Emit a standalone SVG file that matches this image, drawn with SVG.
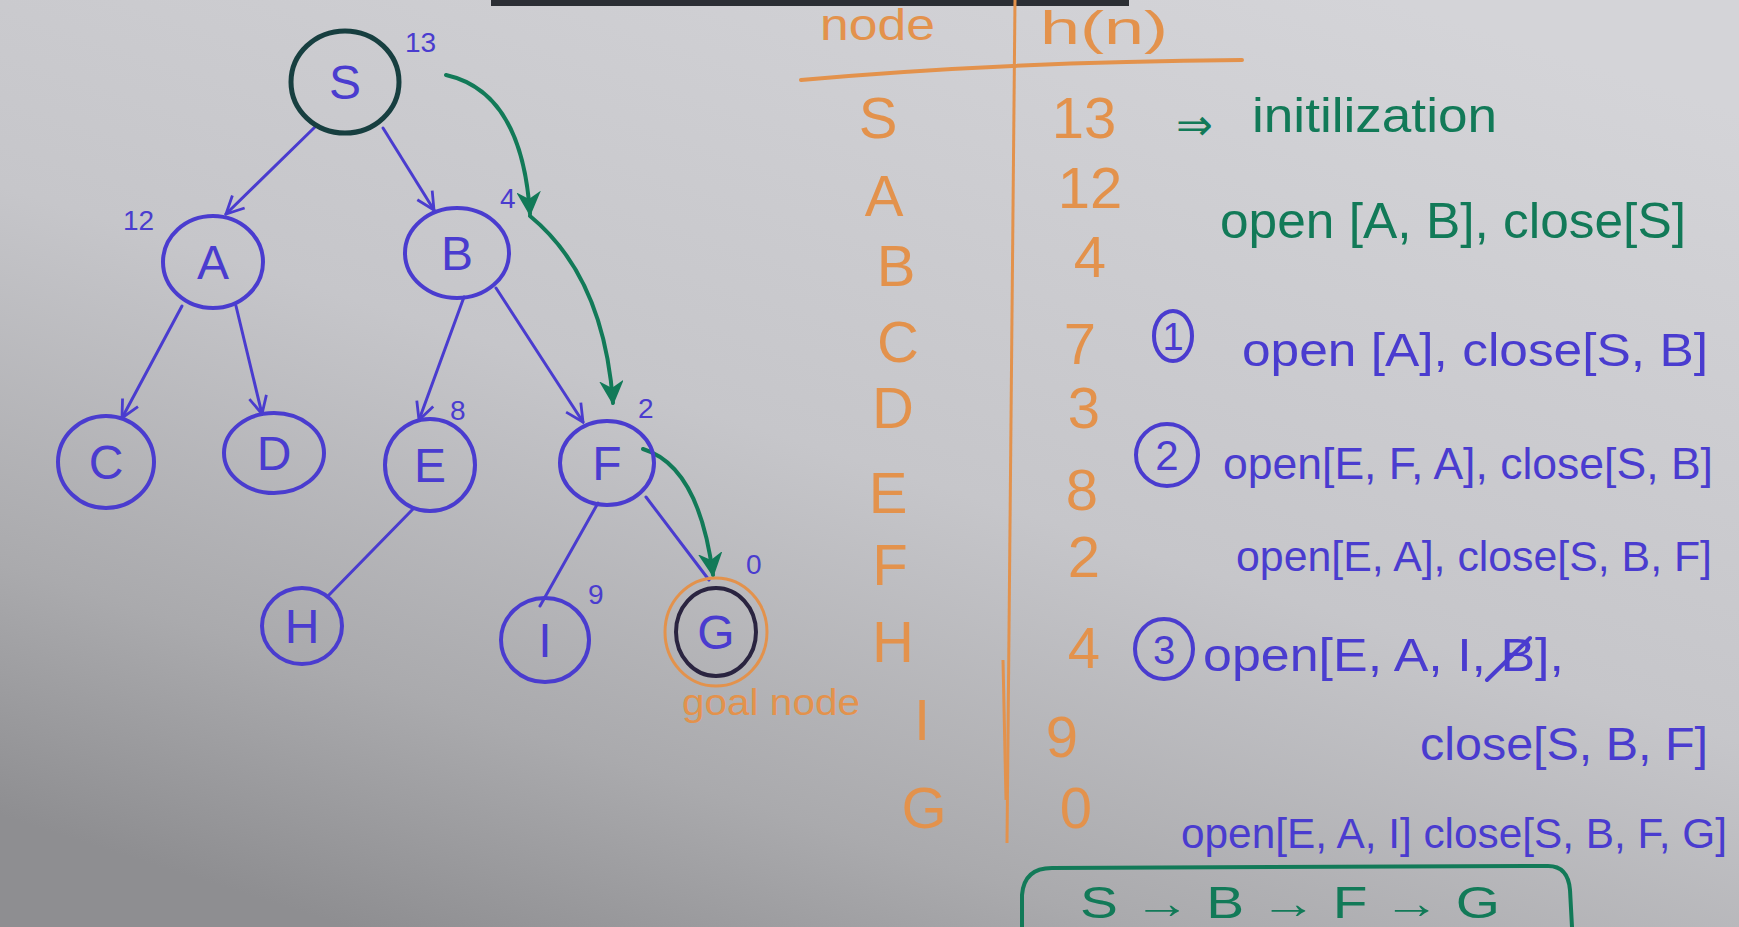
<svg xmlns="http://www.w3.org/2000/svg" width="1739" height="927" viewBox="0 0 1739 927">
<defs>
<linearGradient id="bg" x1="0.8" y1="0" x2="0.2" y2="1">
<stop offset="0" stop-color="#d4d4d8"/>
<stop offset="0.5" stop-color="#c6c6ca"/>
<stop offset="0.8" stop-color="#aaaaad"/>
<stop offset="1" stop-color="#8e8e91"/>
</linearGradient>
<marker id="ab" viewBox="0 0 12 12" refX="11" refY="6" markerWidth="7" markerHeight="7" orient="auto" markerUnits="strokeWidth">
<path d="M1,1 L11,6 L1,11" fill="none" stroke="#4a3ccf" stroke-width="1.6"/>
</marker>
<marker id="ag" viewBox="0 0 12 12" refX="11" refY="6" markerWidth="6" markerHeight="6" orient="auto" markerUnits="strokeWidth">
<path d="M1,1 L11,6 L1,11 L4,6 Z" fill="#127a58" stroke="#127a58" stroke-width="1"/>
</marker>
<style>
.nb{fill:none;stroke:#4a3ccf;stroke-width:4}
.nl{font-family:"Liberation Sans",Arial,sans-serif;font-size:48px;fill:#4a3ccf;text-anchor:middle}
.hv{font-family:"Liberation Sans",Arial,sans-serif;font-size:28px;fill:#4a3ccf}
.e{fill:none;stroke:#4a3ccf;stroke-width:3;stroke-linecap:round}
.g{fill:none;stroke:#127a58;stroke-width:4;stroke-linecap:round}
.or{font-family:"Liberation Sans",Arial,sans-serif;fill:#e3924c}
.tb{font-family:"Liberation Sans",Arial,sans-serif;font-size:58px;fill:#e3924c;text-anchor:middle}
.bt{font-family:"Liberation Sans",Arial,sans-serif;fill:#4a3ccf}
.gt{font-family:"Liberation Sans",Arial,sans-serif;fill:#127a58}
</style>
</defs>
<rect x="0" y="0" width="1739" height="927" fill="url(#bg)"/>
<rect x="491" y="0" width="638" height="6" fill="#2b2e34"/>

<g id="connectors">
<line class="e" x1="316" y1="126" x2="226" y2="214" marker-end="url(#ab)"/>
<line class="e" x1="383" y1="128" x2="434" y2="210" marker-end="url(#ab)"/>
<line class="e" x1="182" y1="306" x2="122" y2="418" marker-end="url(#ab)"/>
<line class="e" x1="236" y1="306" x2="262" y2="414" marker-end="url(#ab)"/>
<line class="e" x1="464" y1="297" x2="419" y2="420" marker-end="url(#ab)"/>
<line class="e" x1="496" y1="288" x2="583" y2="422" marker-end="url(#ab)"/>
<line class="e" x1="414" y1="508" x2="328" y2="596"/>
<line class="e" x1="598" y1="503" x2="540" y2="606"/>
<line class="e" x1="646" y1="497" x2="709" y2="580"/>
<path class="g" d="M446,75 Q522,92 530,214" marker-end="url(#ag)"/>
<path class="g" d="M530,216 Q604,277 613,403" marker-end="url(#ag)"/>
<path class="g" d="M643,449 Q699,466 713,575" marker-end="url(#ag)"/>
</g>

<g id="node-S">
<ellipse cx="345" cy="82" rx="54" ry="51" fill="none" stroke="#173f40" stroke-width="5"/>
<text class="nl" x="345" y="99">S</text>
<text class="hv" x="405" y="52">13</text>
</g>
<g id="node-A">
<ellipse class="nb" cx="213" cy="262" rx="50" ry="46"/>
<text class="nl" x="213" y="279">A</text>
<text class="hv" x="123" y="230">12</text>
</g>
<g id="node-B">
<ellipse class="nb" cx="457" cy="253" rx="52" ry="45"/>
<text class="nl" x="457" y="270">B</text>
<text class="hv" x="500" y="208">4</text>
</g>
<g id="node-C">
<ellipse class="nb" cx="106" cy="462" rx="48" ry="46"/>
<text class="nl" x="106" y="479">C</text>
</g>
<g id="node-D">
<ellipse class="nb" cx="274" cy="453" rx="50" ry="40"/>
<text class="nl" x="274" y="470">D</text>
</g>
<g id="node-E">
<ellipse class="nb" cx="430" cy="465" rx="45" ry="46"/>
<text class="nl" x="430" y="482">E</text>
<text class="hv" x="450" y="420">8</text>
</g>
<g id="node-F">
<ellipse class="nb" cx="607" cy="463" rx="47" ry="42"/>
<text class="nl" x="607" y="480">F</text>
<text class="hv" x="638" y="418">2</text>
</g>
<g id="node-H">
<ellipse class="nb" cx="302" cy="626" rx="40" ry="38"/>
<text class="nl" x="302" y="643">H</text>
</g>
<g id="node-I">
<ellipse class="nb" cx="545" cy="640" rx="44" ry="42"/>
<text class="nl" x="545" y="657">I</text>
<text class="hv" x="588" y="604">9</text>
</g>
<g id="node-G">
<ellipse cx="716" cy="632" rx="51" ry="54" fill="none" stroke="#e3924c" stroke-width="3"/>
<ellipse cx="716" cy="632" rx="40" ry="44" fill="none" stroke="#2a2440" stroke-width="4"/>
<text class="nl" x="716" y="649">G</text>
<text class="hv" x="746" y="574">0</text>
<text class="or" x="682" y="715" font-size="36" textLength="178" lengthAdjust="spacingAndGlyphs">goal node</text>
</g>

<g id="table">
<text class="or" x="820" y="40" font-size="44" textLength="115" lengthAdjust="spacingAndGlyphs">node</text>
<text class="or" x="1040" y="44" font-size="46" textLength="128" lengthAdjust="spacingAndGlyphs">h(n)</text>
<path d="M801,80 Q1000,62 1242,60" fill="none" stroke="#e3924c" stroke-width="4" stroke-linecap="round"/>
<path d="M1015,0 L1007,843" fill="none" stroke="#e3924c" stroke-width="3"/>
<path d="M1003,660 L1006,800" fill="none" stroke="#e3924c" stroke-width="3"/>
<text class="tb" x="878" y="138">S</text>
<text class="tb" x="884" y="216">A</text>
<text class="tb" x="896" y="286">B</text>
<text class="tb" x="898" y="362">C</text>
<text class="tb" x="893" y="428">D</text>
<text class="tb" x="888" y="513">E</text>
<text class="tb" x="890" y="585">F</text>
<text class="tb" x="893" y="662">H</text>
<text class="tb" x="922" y="740">I</text>
<text class="tb" x="924" y="828">G</text>
<text class="tb" x="1084" y="138">13</text>
<text class="tb" x="1090" y="208">12</text>
<text class="tb" x="1090" y="277">4</text>
<text class="tb" x="1080" y="364">7</text>
<text class="tb" x="1084" y="428">3</text>
<text class="tb" x="1082" y="510">8</text>
<text class="tb" x="1084" y="577">2</text>
<text class="tb" x="1084" y="668">4</text>
<text class="tb" x="1062" y="757">9</text>
<text class="tb" x="1076" y="828">0</text>
</g>

<g id="steps">
<text class="gt" x="1176" y="140" font-size="44">⇒</text>
<text class="gt" x="1252" y="132" font-size="48" textLength="245" lengthAdjust="spacingAndGlyphs">initilization</text>
<text class="gt" x="1220" y="238" font-size="50" textLength="466" lengthAdjust="spacingAndGlyphs">open [A, B], close[S]</text>

<ellipse cx="1173" cy="336" rx="19" ry="25" fill="none" stroke="#4a3ccf" stroke-width="4"/>
<text class="bt" x="1173" y="350" font-size="38" text-anchor="middle">1</text>
<text class="bt" x="1242" y="366" font-size="46" textLength="466" lengthAdjust="spacingAndGlyphs">open [A], close[S, B]</text>

<ellipse cx="1167" cy="455" rx="31" ry="31" fill="none" stroke="#4a3ccf" stroke-width="4"/>
<text class="bt" x="1167" y="470" font-size="42" text-anchor="middle">2</text>
<text class="bt" x="1223" y="479" font-size="44" textLength="490" lengthAdjust="spacingAndGlyphs">open[E, F, A], close[S, B]</text>

<text class="bt" x="1236" y="571" font-size="42" textLength="476" lengthAdjust="spacingAndGlyphs">open[E, A], close[S, B, F]</text>

<ellipse cx="1164" cy="649" rx="29" ry="30" fill="none" stroke="#4a3ccf" stroke-width="4"/>
<text class="bt" x="1164" y="664" font-size="40" text-anchor="middle">3</text>
<text class="bt" x="1203" y="671" font-size="46" textLength="361" lengthAdjust="spacingAndGlyphs">open[E, A, I, B],</text>
<line x1="1487" y1="680" x2="1530" y2="638" stroke="#4a3ccf" stroke-width="4" stroke-linecap="round"/>

<text class="bt" x="1420" y="760" font-size="46" textLength="288" lengthAdjust="spacingAndGlyphs">close[S, B, F]</text>
<text class="bt" x="1181" y="848" font-size="42" textLength="546" lengthAdjust="spacingAndGlyphs">open[E, A, I] close[S, B, F, G]</text>

<path d="M1022,927 L1022,895 Q1024,868 1052,868 L1548,866 Q1568,866 1570,890 L1572,927" fill="none" stroke="#127a58" stroke-width="4"/>
<text class="gt" x="1080" y="918" font-size="44" textLength="420" lengthAdjust="spacingAndGlyphs">S → B → F → G</text>
</g>
</svg>
